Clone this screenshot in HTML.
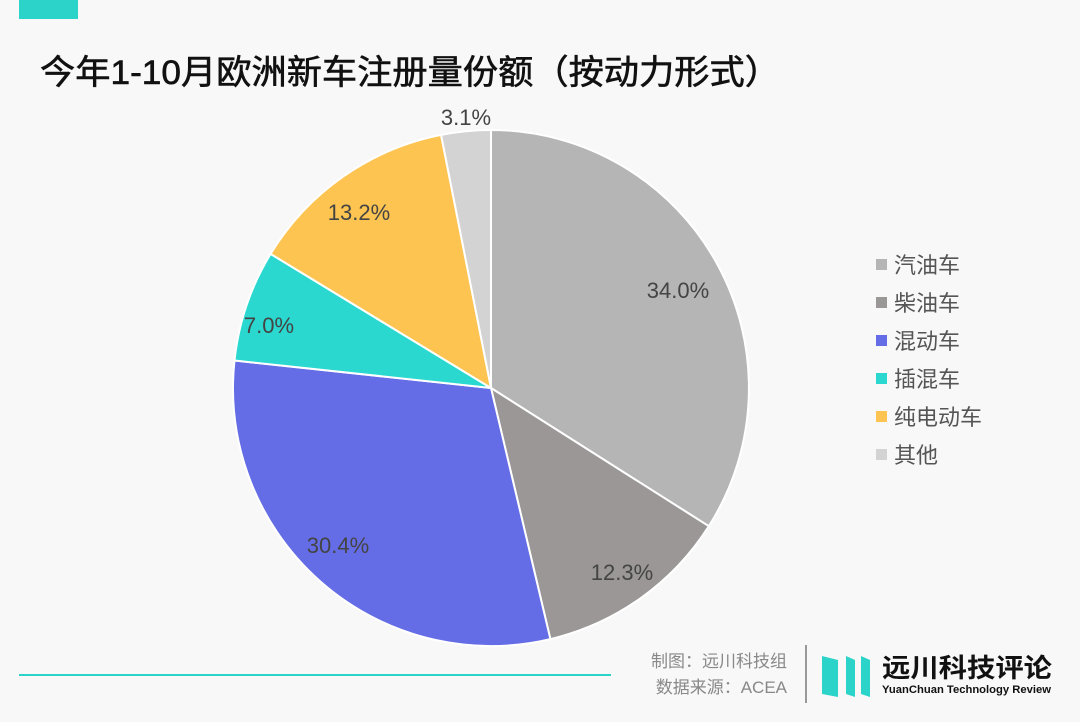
<!DOCTYPE html>
<html><head><meta charset="utf-8"><style>
html,body{margin:0;padding:0;background:#f8f8f8;}
svg{display:block;font-family:"Liberation Sans","Noto Sans CJK SC",sans-serif;}
</style></head><body>
<svg width="1080" height="722" viewBox="0 0 1080 722" xmlns="http://www.w3.org/2000/svg">
<rect width="1080" height="722" fill="#f8f8f8"/>
<rect x="19" y="0" width="59" height="19" fill="#2bd3c9"/>
<text x="40" y="84" font-size="34" font-weight="normal" fill="#111" stroke="#111" stroke-width="0.6" textLength="740" lengthAdjust="spacingAndGlyphs">今年1-10月欧洲新车注册量份额（按动力形式）</text>
<g stroke="#fff" stroke-width="2" stroke-linejoin="round">
<path d="M491,388 L491,130 A258,258 0 0,1 708.8,526.2 Z" fill="#b5b5b5"/>
<path d="M491,388 L708.8,526.2 A258,258 0 0,1 550.4,639.1 Z" fill="#9a9796"/>
<path d="M491,388 L550.4,639.1 A258,258 0 0,1 234.5,360.5 Z" fill="#646de6"/>
<path d="M491,388 L234.5,360.5 A258,258 0 0,1 270.6,253.9 Z" fill="#2ad8d0"/>
<path d="M491,388 L270.6,253.9 A258,258 0 0,1 441.1,134.9 Z" fill="#fdc452"/>
<path d="M491,388 L441.1,134.9 A258,258 0 0,1 491,130 Z" fill="#d3d3d3"/>
</g>
<g font-size="22" fill="#444" text-anchor="middle">
<text x="678" y="298">34.0%</text>
<text x="622" y="580">12.3%</text>
<text x="338" y="553">30.4%</text>
<text x="269" y="333">7.0%</text>
<text x="359" y="220">13.2%</text>
<text x="466" y="125">3.1%</text>
</g>
<g font-size="22" fill="#555">
<rect x="876" y="259" width="11" height="11" fill="#b5b5b5"/><text x="894" y="273">汽油车</text>
<rect x="876" y="297" width="11" height="11" fill="#9a9796"/><text x="894" y="311">柴油车</text>
<rect x="876" y="335" width="11" height="11" fill="#646de6"/><text x="894" y="349">混动车</text>
<rect x="876" y="373" width="11" height="11" fill="#2ad8d0"/><text x="894" y="387">插混车</text>
<rect x="876" y="411" width="11" height="11" fill="#fdc452"/><text x="894" y="425">纯电动车</text>
<rect x="876" y="449" width="11" height="11" fill="#d3d3d3"/><text x="894" y="463">其他</text>
</g>
<rect x="19" y="674" width="592" height="2" fill="#2bd3c9"/>
<g font-size="17" fill="#888" text-anchor="end">
<text x="787" y="667">制图：远川科技组</text>
<text x="787" y="693">数据来源：ACEA</text>
</g>
<rect x="805" y="645" width="2" height="58" fill="#999"/>
<g fill="#2bd3c9">
<polygon points="822,656 838,660 838,697 822,694"/>
<polygon points="846,656 855,660 855,697 846,694"/>
<polygon points="861,656 870,660 870,697 861,694"/>
</g>
<text x="882" y="677" font-size="26" font-weight="bold" fill="#111" textLength="170" lengthAdjust="spacingAndGlyphs">远川科技评论</text>
<text x="882" y="693" font-size="11" font-weight="bold" fill="#111" textLength="169" lengthAdjust="spacingAndGlyphs">YuanChuan Technology Review</text>
</svg>
</body></html>
